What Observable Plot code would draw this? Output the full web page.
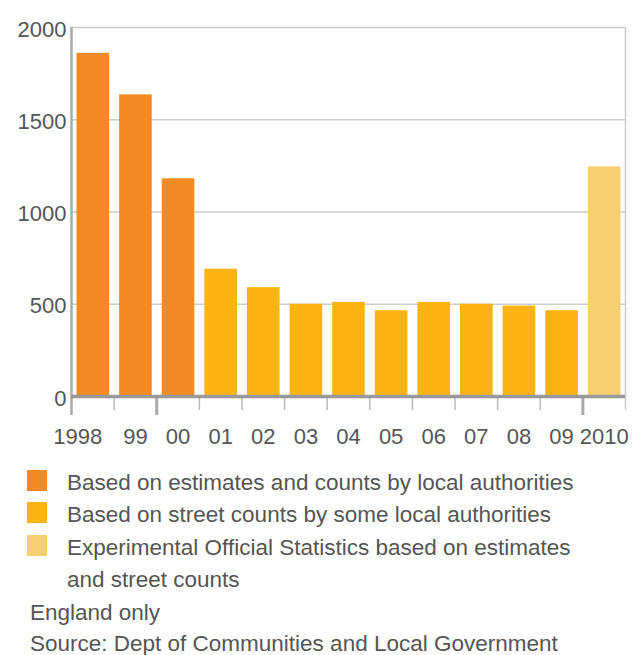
<!DOCTYPE html>
<html><head><meta charset="utf-8">
<script src="https://cdn.jsdelivr.net/npm/d3@7"></script>
<script src="https://cdn.jsdelivr.net/npm/@observablehq/plot@0.6"></script>
<style>
body{margin:0;background:#fff;font-family:"Liberation Sans",Arial,Helvetica,sans-serif;color:#555;}
#wrap{position:relative;width:635px;height:655px;overflow:hidden;}
#legend{position:absolute;left:0;top:467px;width:635px;font-size:22.5px;line-height:32.4px;}
.row{position:relative;padding-left:67px;height:32.4px;white-space:nowrap;}
.sw{position:absolute;left:27px;top:3px;width:20px;height:21px;}
.note{padding-left:30px;}
.note.last{height:20px;line-height:20px;margin-top:4.6px;}
</style></head><body><div id="wrap"><div id="chart"></div><div id="legend"></div></div>
<script>
const years = [1998,1999,2000,2001,2002,2003,2004,2005,2006,2007,2008,2009,2010];
const tickLabels = ["1998","99","00","01","02","03","04","05","06","07","08","09","2010"];
const values = [1860,1635,1180,690,590,500,510,465,510,500,490,465,1245];
const seriesIndex = [0,0,0,1,1,1,1,1,1,1,1,1,2];
const seriesNames = [
  "Based on estimates and counts by local authorities",
  "Based on street counts by some local authorities",
  "Experimental Official Statistics based on estimates\nand street counts"
];
const seriesColors = ["#f48b22","#fcb316","#f7cf70"];
const yTicks = [0,500,1000,1500,2000];
const majorTickBeforeYears = [1998,2000,2010];
const notes = ["England only","Source: Dept of Communities and Local Government"];

const data = years.map((y,i)=>({year:y,label:tickLabels[i],value:values[i],series:seriesNames[seriesIndex[i]]}));
const boundaries = years.map(y=>y-0.5).concat([years[years.length-1]+0.5]);
const majors = majorTickBeforeYears.map(y=>y-0.5);
const lastB = boundaries[boundaries.length-1];
const minors = boundaries.filter(b=>!majors.includes(b) && b!==lastB);

const chart = Plot.plot({
  width:635, height:466,
  marginTop:27, marginBottom:70, marginLeft:71, marginRight:10,
  style:{fontFamily:'"Liberation Sans",Arial,Helvetica,sans-serif',fontSize:"22px",color:"#555",background:"#fff"},
  x:{type:"linear",domain:[boundaries[0],lastB],axis:null},
  y:{domain:[0,2000],axis:null},
  color:{domain:seriesNames,range:seriesColors},
  marks:[
    Plot.ruleY(yTicks.filter(t=>t>0),{stroke:"#cccccc",strokeWidth:1.5}),
    Plot.ruleX([lastB],{y1:2000,y2:0,insetBottom:-14,stroke:"#cccccc",strokeWidth:1.5}),
    Plot.rectY(data,{x1:d=>d.year-0.5,x2:d=>d.year+0.5,y:"value",fill:"series",insetLeft:5.5,insetRight:4.5}),
    Plot.ruleX(minors,{y1:0,y2:0,insetBottom:-14,stroke:"#bbbbbb",strokeWidth:1.5}),
    Plot.ruleX(majors.filter(b=>b!==boundaries[0]),{y1:0,y2:0,insetBottom:-19,stroke:"#aaaaaa",strokeWidth:3}),
    Plot.ruleX([boundaries[0]],{y1:2000,y2:0,insetBottom:-19,stroke:"#aaaaaa",strokeWidth:2.5}),
    Plot.ruleY([0],{stroke:"#999999",strokeWidth:3.5}),
    Plot.axisY({ticks:yTicks,tickFormat:"d",tickSize:0,tickPadding:5,dy:2,label:null,fontSize:22}),
    Plot.text(data.slice(1),{x:"year",y:0,text:"label",dy:40,lineAnchor:"middle",fontSize:22,fill:"#555"}),
    Plot.text(data.slice(0,1),{x:"year",y:0,text:"label",dy:40,dx:-15,lineAnchor:"middle",fontSize:22,fill:"#555"})
  ]
});
document.getElementById("chart").appendChild(chart);

const legend = document.getElementById("legend");
seriesNames.forEach((name,i)=>{
  name.split("\n").forEach((line,j)=>{
    const row = document.createElement("div");
    row.className="row";
    if(j===0){
      const sw=document.createElement("span");
      sw.className="sw"; sw.style.background=seriesColors[i];
      row.appendChild(sw);
    }
    row.appendChild(document.createTextNode(line));
    legend.appendChild(row);
  });
});
notes.forEach((n,i)=>{
  const row=document.createElement("div");
  row.className="row note"+(i===notes.length-1?" last":"");
  row.textContent=n;
  legend.appendChild(row);
});
</script></body></html>
